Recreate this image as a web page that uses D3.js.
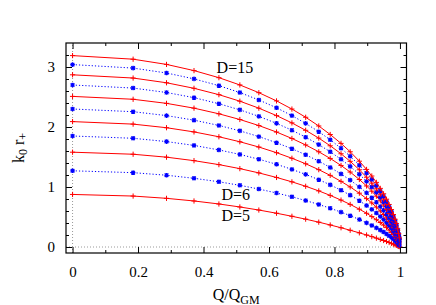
<!DOCTYPE html>
<html>
<head>
<meta charset="utf-8">
<script src="https://cdn.jsdelivr.net/npm/d3@7"></script>
<style>
  html, body { margin: 0; padding: 0; background: #ffffff; }
  svg { display: block; }
  text { font-family: "Liberation Serif", "Times New Roman", serif; fill: #000; }
</style>
</head>
<body>
<svg id="chart" width="436" height="305"></svg>
<script>
// ---- data ----
const qRatio = [0, 0.185, 0.287, 0.371, 0.447, 0.511, 0.569, 0.623, 0.670, 0.712, 0.752, 0.787, 0.820, 0.848, 0.876, 0.898, 0.914, 0.928, 0.940, 0.950, 0.959, 0.967, 0.974, 0.980, 0.985, 0.989, 0.993, 0.996, 0.998];

const k0r_D5  = [0.876,0.849,0.811,0.767,0.717,0.667,0.616,0.563,0.512,0.464,0.414,0.367,0.321,0.279,0.236,0.200,0.173,0.148,0.126,0.108,0.091,0.075,0.061,0.048,0.037,0.028,0.019,0.011,0.006];
const k0r_D6  = [1.270,1.239,1.196,1.145,1.087,1.028,0.966,0.900,0.837,0.774,0.709,0.646,0.581,0.522,0.458,0.402,0.359,0.319,0.282,0.249,0.217,0.187,0.159,0.132,0.109,0.087,0.064,0.043,0.027];
const k0r_D7  = [1.580,1.546,1.497,1.439,1.373,1.306,1.235,1.159,1.086,1.012,0.935,0.860,0.782,0.710,0.630,0.562,0.507,0.455,0.408,0.365,0.323,0.282,0.243,0.207,0.173,0.142,0.107,0.075,0.049];
const k0r_D8  = [1.850,1.812,1.757,1.693,1.618,1.543,1.463,1.378,1.294,1.210,1.122,1.036,0.947,0.864,0.771,0.691,0.627,0.566,0.509,0.458,0.407,0.359,0.311,0.267,0.225,0.187,0.143,0.102,0.067];
const k0r_D9  = [2.090,2.048,1.988,1.918,1.837,1.754,1.666,1.572,1.479,1.387,1.289,1.194,1.094,1.001,0.897,0.806,0.734,0.665,0.600,0.542,0.484,0.428,0.373,0.321,0.272,0.228,0.175,0.127,0.085];
const k0r_D10 = [2.300,2.255,2.190,2.114,2.026,1.936,1.840,1.738,1.638,1.537,1.430,1.326,1.218,1.115,1.002,0.902,0.822,0.746,0.675,0.610,0.546,0.484,0.423,0.365,0.310,0.260,0.201,0.147,0.099];
const k0r_D11 = [2.510,2.462,2.394,2.314,2.220,2.125,2.024,1.916,1.809,1.701,1.587,1.476,1.359,1.249,1.125,1.017,0.930,0.847,0.769,0.698,0.627,0.558,0.490,0.425,0.363,0.307,0.239,0.176,0.120];
const k0r_D12 = [2.700,2.649,2.575,2.489,2.388,2.286,2.177,2.061,1.946,1.830,1.707,1.587,1.462,1.343,1.211,1.094,1.001,0.911,0.827,0.750,0.675,0.600,0.527,0.457,0.391,0.330,0.257,0.189,0.130];
const k0r_D13 = [2.870,2.816,2.737,2.645,2.539,2.430,2.314,2.190,2.068,1.945,1.815,1.687,1.554,1.428,1.287,1.163,1.064,0.969,0.879,0.798,0.717,0.638,0.560,0.486,0.415,0.351,0.274,0.201,0.138];
const k0r_D14 = [3.040,2.982,2.900,2.802,2.689,2.574,2.451,2.320,2.190,2.060,1.922,1.787,1.646,1.512,1.363,1.232,1.127,1.026,0.931,0.845,0.759,0.675,0.594,0.515,0.440,0.371,0.290,0.213,0.146];
const k0r_D15 = [3.190,3.130,3.043,2.940,2.822,2.701,2.572,2.435,2.299,2.162,2.017,1.875,1.727,1.587,1.430,1.293,1.183,1.077,0.977,0.887,0.797,0.709,0.623,0.540,0.462,0.390,0.304,0.224,0.153];

const dimensions = [5, 6, 7, 8, 9, 10, 11, 12, 13, 14, 15];
const seriesValues = [k0r_D5, k0r_D6, k0r_D7, k0r_D8, k0r_D9, k0r_D10, k0r_D11, k0r_D12, k0r_D13, k0r_D14, k0r_D15];

const xMajorTicks = [0, 0.2, 0.4, 0.6, 0.8, 1];
const xMinorTicks = [0.1, 0.3, 0.5, 0.7, 0.9];
const yMajorTicks = [0, 1, 2, 3];
const yMinorTicks = [0.2, 0.4, 0.6, 0.8, 1.2, 1.4, 1.6, 1.8, 2.2, 2.4, 2.6, 2.8, 3.2];

const curveLabels = [
  { text: "D=15", qx: 0.44, ky: 2.90 },
  { text: "D=6",  qx: 0.455, ky: 0.785 },
  { text: "D=5",  qx: 0.455, ky: 0.43 }
];

// ---- drawing ----
const svg = d3.select("#chart");
const L = 66, R = 406.5, T = 43, B = 253;

const x = d3.scaleLinear().domain([-0.02, 1.02]).range([L, R]);
const y = d3.scaleLinear().domain([-0.1, 3.4]).range([B, T]);

const fmt = d3.format("~g");

// zero axes (gray dotted)
svg.append("line")
  .attr("x1", x(0)).attr("x2", x(0)).attr("y1", B).attr("y2", T)
  .attr("stroke", "#9a9a9a").attr("stroke-width", 1).attr("stroke-dasharray", "1,2");
svg.append("line")
  .attr("x1", L).attr("x2", R).attr("y1", y(0)).attr("y2", y(0))
  .attr("stroke", "#9a9a9a").attr("stroke-width", 1).attr("stroke-dasharray", "1,2");

// axes
function styleAxis(g) {
  g.select(".domain").remove();
  g.selectAll(".tick line").attr("stroke", "#000").attr("stroke-width", 1);
  g.selectAll("text").attr("font-size", 15).attr("font-family", "Liberation Serif, serif").attr("fill", "#000");
}
svg.append("g").attr("transform", `translate(0,${B})`)
  .call(d3.axisBottom(x).tickValues(xMajorTicks).tickSize(-6).tickPadding(13).tickFormat(fmt)).call(styleAxis);
svg.append("g").attr("transform", `translate(0,${B})`)
  .call(d3.axisBottom(x).tickValues(xMinorTicks).tickSize(-3).tickFormat("")).call(styleAxis);
svg.append("g").attr("transform", `translate(0,${T})`)
  .call(d3.axisTop(x).tickValues(xMajorTicks).tickSize(-6).tickFormat("")).call(styleAxis);
svg.append("g").attr("transform", `translate(0,${T})`)
  .call(d3.axisTop(x).tickValues(xMinorTicks).tickSize(-3).tickFormat("")).call(styleAxis);
svg.append("g").attr("transform", `translate(${L},0)`)
  .call(d3.axisLeft(y).tickValues(yMajorTicks).tickSize(-6).tickPadding(11).tickFormat(fmt)).call(styleAxis);
svg.append("g").attr("transform", `translate(${L},0)`)
  .call(d3.axisLeft(y).tickValues(yMinorTicks).tickSize(-3).tickFormat("")).call(styleAxis);
svg.append("g").attr("transform", `translate(${R},0)`)
  .call(d3.axisRight(y).tickValues(yMajorTicks).tickSize(-6).tickFormat("")).call(styleAxis);
svg.append("g").attr("transform", `translate(${R},0)`)
  .call(d3.axisRight(y).tickValues(yMinorTicks).tickSize(-3).tickFormat("")).call(styleAxis);

// curves
const line = d3.line().x(d => x(d[0])).y(d => y(d[1]));
const plus = "M-2.6,0H2.6M0,-2.6V2.6";
const star = "M-2.3,0H2.3M0,-2.3V2.3M-1.8,-1.8L1.8,1.8M-1.8,1.8L1.8,-1.8";

dimensions.forEach((D, i) => {
  const pts = qRatio.map((q, j) => [q, seriesValues[i][j]]);
  const red = (D % 2 === 1);
  const col = red ? "#ff0000" : "#0000ff";
  svg.append("path").datum(pts)
    .attr("d", line).attr("fill", "none")
    .attr("stroke", col).attr("stroke-width", 1)
    .attr("stroke-dasharray", red ? null : "1.2,2");
  svg.append("g").selectAll("path").data(pts).join("path")
    .attr("transform", d => `translate(${x(d[0])},${y(d[1])})`)
    .attr("d", red ? plus : star)
    .attr("fill", "none").attr("stroke", col).attr("stroke-width", red ? 1 : 1.2);
});

// frame
svg.append("rect").attr("x", L).attr("y", T).attr("width", R - L).attr("height", B - T)
  .attr("fill", "none").attr("stroke", "#000").attr("stroke-width", 1.2);

// curve labels
svg.append("g").selectAll("text").data(curveLabels).join("text")
  .attr("x", d => x(d.qx)).attr("y", d => y(d.ky))
  .attr("font-size", 16).text(d => d.text);

// axis titles
const xt = svg.append("text").attr("x", (L + R) / 2).attr("y", 299.5)
  .attr("text-anchor", "middle").attr("font-size", 16);
xt.append("tspan").text("Q/Q");
xt.append("tspan").attr("dy", 4).attr("font-size", 12).text("GM");

const yt = svg.append("text").attr("transform", `translate(24,${(T + B) / 2}) rotate(-90)`)
  .attr("text-anchor", "middle").attr("font-size", 16);
yt.append("tspan").text("k");
yt.append("tspan").attr("dy", 3).attr("font-size", 12).text("0");
yt.append("tspan").attr("dy", -3).text(" r");
yt.append("tspan").attr("dy", 3).attr("font-size", 12).text("+");
</script>
</body>
</html>
